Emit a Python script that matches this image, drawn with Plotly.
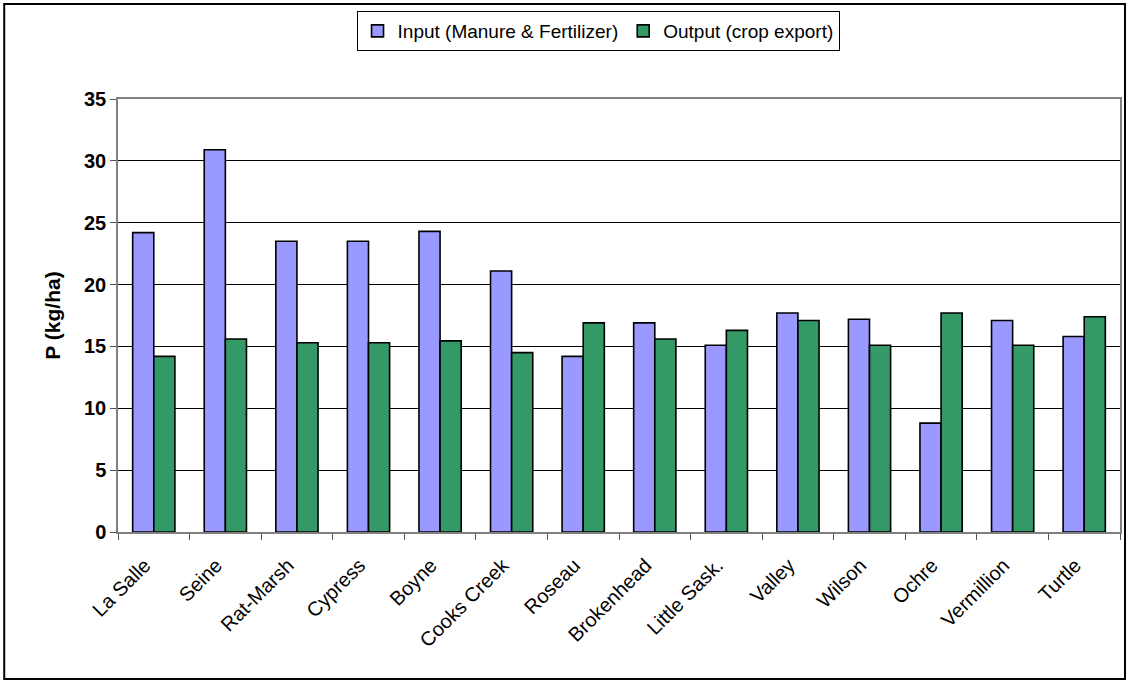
import plotly.graph_objects as go

# Phosphorus balance by watershed
watersheds = ["La Salle", "Seine", "Rat-Marsh", "Cypress", "Boyne", "Cooks Creek",
              "Roseau", "Brokenhead", "Little Sask.", "Valley", "Wilson", "Ochre",
              "Vermillion", "Turtle"]
p_input = [24.2, 30.9, 23.5, 23.5, 24.3, 21.1, 14.2, 16.9, 15.1, 17.7, 17.2, 8.8, 17.1, 15.8]
p_output = [14.2, 15.6, 15.3, 15.3, 15.45, 14.5, 16.9, 15.6, 16.3, 17.1, 15.1, 17.7, 15.1, 17.4]
y_ticks = [0, 5, 10, 15, 20, 25, 30, 35]

W, H = 1130, 681
L, R, T, B = 118, 8, 99, 149

fig = go.Figure()
fig.add_trace(go.Bar(x=watersheds, y=p_input, name="Input (Manure & Fertilizer)",
                     marker=dict(color="#9999FF", line=dict(color="black", width=1.6))))
fig.add_trace(go.Bar(x=watersheds, y=p_output, name="Output (crop export)",
                     marker=dict(color="#339966", line=dict(color="black", width=1.6))))

pw, ph = W - L - R, H - T - B


def px_x(x):
    return (x - L) / pw


def px_y(y):
    return (H - B - y) / ph


# outer chart frame
fig.add_shape(type="rect", xref="paper", yref="paper",
              x0=px_x(4), x1=px_x(1127), y0=px_y(679), y1=px_y(4),
              line=dict(color="black", width=2), fillcolor="rgba(0,0,0,0)", layer="below")

fig.update_layout(
    width=W, height=H,
    margin=dict(l=L, r=R, t=T, b=B),
    paper_bgcolor="white", plot_bgcolor="white",
    barmode="group", bargap=0.41, bargroupgap=0,
    font=dict(family="Liberation Sans, Arial, sans-serif", color="black"),
    legend=dict(orientation="h", x=px_x(599), xanchor="center", y=px_y(11), yanchor="top",
                bordercolor="black", borderwidth=1, bgcolor="white",
                font=dict(size=19), itemwidth=30, traceorder="normal",
                tracegroupgap=0),
    xaxis=dict(tickangle=-45, tickfont=dict(size=20), showline=True, mirror=True,
               linecolor="#808080", linewidth=1.5, ticks="outside", tickson="boundaries",
               ticklen=6, tickcolor="#555555", showgrid=False,
               ticklabelstandoff=12, ticklabelshift=-9),
    yaxis=dict(range=[0, 35], tickvals=y_ticks,
               tickfont=dict(size=20, family="Liberation Sans, Arial", weight="bold"),
               showline=True, mirror=True, linecolor="#808080", linewidth=1.5,
               ticks="outside", ticklen=6, tickcolor="#555555",
               showgrid=True, gridcolor="black", gridwidth=1, zeroline=False,
               title=dict(text="<b>P (kg/ha)</b>", font=dict(size=21), standoff=18)),
)

fig.write_html("out.html")
